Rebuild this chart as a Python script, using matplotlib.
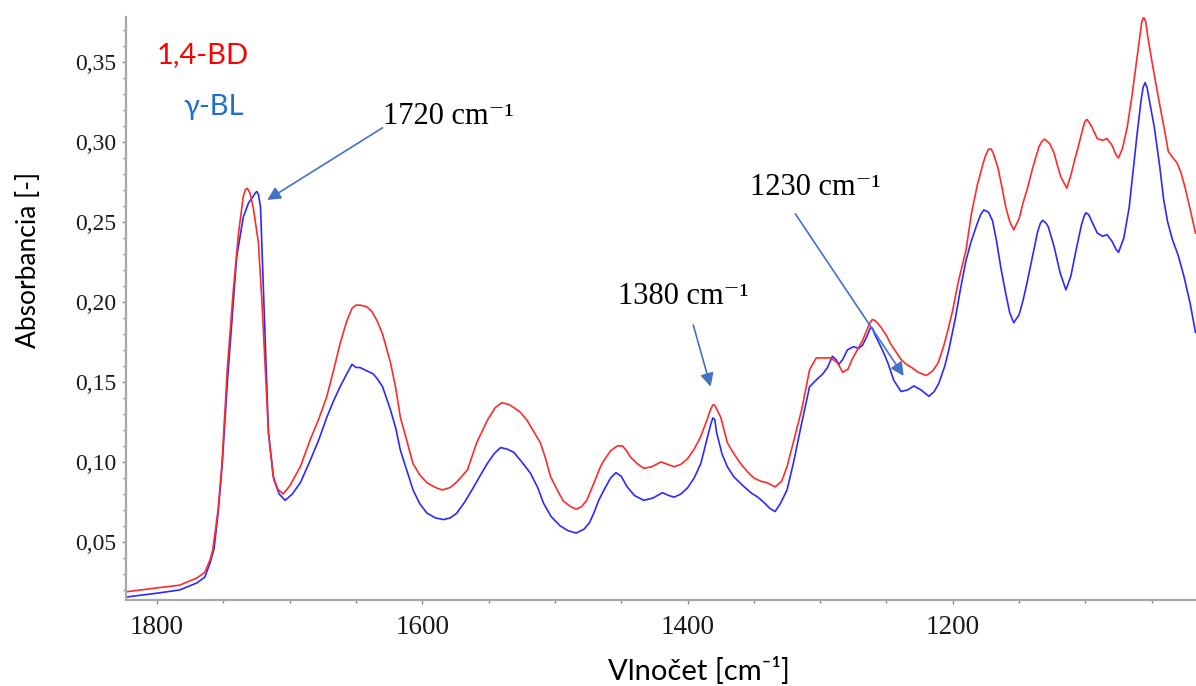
import matplotlib
matplotlib.use("Agg")
import matplotlib.pyplot as plt
from matplotlib.ticker import MultipleLocator, FuncFormatter


# ---------------- FTIR spectra (wavenumber, absorbance) ----------------
wn_bd = [1823, 1800, 1783, 1770, 1764, 1760, 1758, 1754, 1751, 1747, 1742.5,
         1738.6, 1735, 1733.5, 1732, 1730, 1727.5, 1723.6, 1721, 1718.5, 1716,
         1712.5, 1709, 1705, 1700, 1692, 1684.5, 1678, 1672, 1667, 1662, 1657,
         1653, 1650, 1647, 1642, 1638, 1634, 1630, 1624, 1620, 1616.6, 1611,
         1607, 1602, 1596.5, 1590, 1585, 1579, 1574, 1566, 1559, 1551, 1545,
         1540, 1535, 1531, 1526, 1521, 1516, 1511, 1507, 1503.4, 1498, 1493.6,
         1488, 1484, 1480, 1476, 1471, 1465.7, 1463, 1458, 1453, 1449, 1446,
         1443, 1438, 1433, 1427, 1420, 1415, 1410, 1405, 1400, 1395, 1390, 1385,
         1383, 1381, 1379.5, 1378, 1375, 1370, 1365, 1360, 1355, 1350, 1345,
         1340, 1334, 1329, 1325, 1320, 1314, 1308, 1303, 1297, 1292, 1287, 1283,
         1279, 1276, 1272, 1268, 1264, 1262, 1260.6, 1259, 1257, 1254, 1250,
         1247, 1243, 1239, 1235, 1231, 1226, 1220, 1215, 1211, 1207, 1203.6,
         1200, 1196, 1190, 1186, 1181.5, 1177, 1175, 1173, 1171, 1169.5, 1166,
         1163, 1160, 1157, 1154, 1150, 1147, 1144, 1140, 1135, 1133, 1131, 1129,
         1127, 1123.6, 1121, 1118.5, 1114, 1111, 1108, 1106, 1102, 1100.5, 1099,
         1097, 1095, 1091, 1087, 1083.7, 1080, 1077, 1075, 1072, 1068.5, 1065,
         1062, 1059, 1057.5, 1056, 1054.5, 1053, 1050, 1047, 1043.7, 1040,
         1037.5, 1034, 1031, 1028, 1025, 1021, 1017]
abs_bd = [0.0189, 0.0213, 0.023, 0.0275, 0.031, 0.039, 0.045, 0.07, 0.10, 0.159,
          0.2075, 0.243, 0.266, 0.270, 0.271, 0.268, 0.259, 0.237, 0.201, 0.159,
          0.118, 0.091, 0.083, 0.080, 0.085, 0.097, 0.114, 0.127, 0.141, 0.157,
          0.174, 0.188, 0.196, 0.198, 0.198, 0.197, 0.194, 0.188, 0.180, 0.162,
          0.146, 0.128, 0.111, 0.099, 0.092, 0.087, 0.084, 0.0825, 0.084, 0.0875,
          0.095, 0.112, 0.126, 0.134, 0.137, 0.136, 0.134, 0.131, 0.126, 0.119,
          0.112, 0.102, 0.091, 0.082, 0.0755, 0.072, 0.0705, 0.072, 0.076, 0.086,
          0.097, 0.101, 0.107, 0.110, 0.110, 0.107, 0.103, 0.099, 0.096, 0.097,
          0.100, 0.0985, 0.097, 0.0985, 0.102, 0.108, 0.116, 0.127, 0.132, 0.1356,
          0.1355, 0.133, 0.128, 0.112, 0.105, 0.099, 0.094, 0.090, 0.088, 0.087,
          0.0844, 0.088, 0.097, 0.113, 0.1325, 0.1575, 0.165, 0.165, 0.165, 0.162,
          0.156, 0.158, 0.164, 0.170, 0.176, 0.184, 0.1875, 0.189, 0.1885, 0.187,
          0.184, 0.179, 0.174, 0.169, 0.164, 0.161, 0.159, 0.156, 0.154, 0.157,
          0.162, 0.172, 0.1825, 0.195, 0.212, 0.2325, 0.255, 0.273, 0.287, 0.292,
          0.2955, 0.2955, 0.293, 0.284, 0.272, 0.259, 0.250, 0.245, 0.252, 0.262,
          0.270, 0.283, 0.297, 0.300, 0.3017, 0.3005, 0.299, 0.293, 0.285, 0.278,
          0.271, 0.279, 0.289, 0.295, 0.308, 0.3125, 0.314, 0.312, 0.309, 0.302,
          0.301, 0.302, 0.298, 0.292, 0.290, 0.296, 0.309, 0.328, 0.347, 0.366,
          0.375, 0.378, 0.375, 0.366, 0.351, 0.337, 0.322, 0.306, 0.294, 0.290,
          0.287, 0.281, 0.272, 0.258, 0.243]

wn_bl = [1823, 1800, 1783, 1770, 1764, 1760, 1757, 1754, 1751, 1747, 1743, 1740,
         1735, 1731, 1727.5, 1726, 1724.8, 1723.5, 1722, 1720, 1717.7, 1716,
         1712, 1708, 1703.4, 1698, 1692, 1684.5, 1678, 1672, 1667, 1662, 1657,
         1653, 1650, 1647, 1642, 1637, 1634, 1630, 1624, 1620, 1616.6, 1611,
         1607, 1602, 1596.5, 1590, 1584, 1579, 1574, 1568, 1561.5, 1556, 1551,
         1546, 1541, 1536, 1531, 1525, 1518.5, 1513, 1508.7, 1503, 1496, 1490,
         1484, 1478, 1474, 1470.7, 1467, 1463, 1458, 1454, 1450, 1445.5, 1440,
         1433, 1426, 1419, 1414, 1410, 1405, 1400, 1395, 1390, 1386, 1383, 1381,
         1379.5, 1378, 1374, 1370, 1365, 1358, 1352, 1347, 1342, 1338, 1334,
         1330, 1325, 1320, 1314, 1308, 1302, 1298, 1294.5, 1290.8, 1288, 1286,
         1283, 1279.5, 1275, 1271, 1268, 1265, 1263, 1262, 1260.5, 1259, 1256,
         1252, 1249, 1244.5, 1239, 1234, 1229.4, 1224, 1218, 1214, 1210.6, 1206,
         1203, 1198, 1194, 1190, 1186.4, 1182, 1179, 1176.6, 1173, 1170, 1167,
         1163.8, 1160, 1157, 1154, 1150, 1147, 1144, 1140, 1136, 1134, 1132.3,
         1130, 1128, 1123.6, 1119, 1114.7, 1111, 1107, 1103, 1101, 1099.6, 1097.5,
         1095, 1091, 1087, 1083.7, 1080, 1077, 1075, 1071, 1067, 1064, 1061,
         1058, 1056.5, 1055, 1053.5, 1052, 1048, 1044, 1041, 1038, 1034.4, 1030,
         1025.7, 1021, 1017]
abs_bl = [0.0156, 0.018, 0.020, 0.0244, 0.028, 0.037, 0.046, 0.068, 0.097, 0.150,
          0.195, 0.228, 0.253, 0.262, 0.266, 0.268, 0.269, 0.267, 0.259, 0.212,
          0.159, 0.118, 0.089, 0.080, 0.076, 0.080, 0.087, 0.101, 0.114, 0.128,
          0.138, 0.147, 0.155, 0.161, 0.159, 0.159, 0.157, 0.155, 0.152, 0.147,
          0.1325, 0.121, 0.1075, 0.093, 0.0825, 0.074, 0.068, 0.065, 0.064, 0.065,
          0.068, 0.075, 0.084, 0.092, 0.099, 0.105, 0.109, 0.108, 0.106, 0.100,
          0.093, 0.084, 0.0744, 0.066, 0.060, 0.057, 0.0556, 0.058, 0.062, 0.068,
          0.076, 0.0825, 0.090, 0.0933, 0.091, 0.0844, 0.079, 0.076, 0.0775,
          0.0808, 0.079, 0.078, 0.080, 0.0838, 0.090, 0.099, 0.112, 0.122, 0.1275,
          0.1265, 0.118, 0.105, 0.097, 0.0906, 0.085, 0.0806, 0.078, 0.0744, 0.071,
          0.069, 0.074, 0.0825, 0.100, 0.124, 0.147, 0.152, 0.155, 0.159, 0.166,
          0.164, 0.161, 0.164, 0.170, 0.172, 0.171, 0.173, 0.178, 0.182, 0.184,
          0.1835, 0.180, 0.175, 0.168, 0.162, 0.151, 0.144, 0.145, 0.1475, 0.145,
          0.141, 0.144, 0.149, 0.160, 0.170, 0.190, 0.209, 0.226, 0.237, 0.248,
          0.2545, 0.2575, 0.256, 0.2506, 0.238, 0.2215, 0.205, 0.193, 0.187, 0.192,
          0.201, 0.212, 0.228, 0.244, 0.249, 0.251, 0.2495, 0.247, 0.2345, 0.218,
          0.2075, 0.216, 0.2325, 0.248, 0.2535, 0.2557, 0.2545, 0.250, 0.243, 0.241,
          0.242, 0.238, 0.233, 0.231, 0.240, 0.259, 0.282, 0.305, 0.326, 0.334,
          0.337, 0.334, 0.327, 0.309, 0.285, 0.264, 0.250, 0.239, 0.229, 0.216,
          0.199, 0.181]

series_names = ["1,4-BD", "γ-BL"]
band_labels = ["1720 cm⁻¹", "1380 cm⁻¹", "1230 cm⁻¹"]

RED = "#ff2a2a"
BLUE = "#2a2aff"
ARROW = "#4472c4"
SERIF = ["Liberation Serif", "DejaVu Serif"]
SANS = ["Lato", "DejaVu Sans"]

fig = plt.figure(figsize=(11.96, 6.86), dpi=100)
ax = fig.add_axes([0.1054, 0.1254, 0.8946, 0.85])

ax.plot(wn_bl, abs_bl, color=BLUE, lw=1.2)
ax.plot(wn_bd, abs_bd, color=RED, lw=1.2)

ax.set_xlim(1823.4, 1016.6)
ax.set_ylim(0.01375, 0.3781)

# axes frame: only left/bottom in gray
for side in ["top", "right"]:
    ax.spines[side].set_visible(False)
for side in ["left", "bottom"]:
    ax.spines[side].set_color("#a8a8a8")
    ax.spines[side].set_linewidth(1.6)

ax.xaxis.set_major_locator(MultipleLocator(200))
ax.xaxis.set_minor_locator(MultipleLocator(50))
ax.yaxis.set_major_locator(MultipleLocator(0.05))
ax.yaxis.set_minor_locator(MultipleLocator(0.01))
ax.yaxis.set_major_formatter(FuncFormatter(lambda v, p: f"{v:.2f}".replace(".", ",")))
ax.xaxis.set_major_formatter(FuncFormatter(lambda v, p: f"{v:.0f}"))

ax.tick_params(which="both", direction="out", color="#888888", width=1)
ax.tick_params(which="major", length=3)
ax.tick_params(which="minor", length=2)
ax.tick_params(axis="x", which="major", pad=8, labelsize=19.5, labelcolor="#1a1a1a")
ax.tick_params(axis="y", which="major", pad=4, labelsize=17, labelcolor="#1a1a1a")
for lab in ax.get_xticklabels() + ax.get_yticklabels():
    lab.set_family(SERIF)

ax.set_ylabel("Absorbancia [-]", fontsize=19, family=SANS, va="center")
ax.yaxis.set_label_coords(-0.0916, 0.583)
ax.set_xlabel("Vlnočet [cm⁻¹]", fontsize=21, family=SANS, va="baseline")
ax.xaxis.set_label_coords(0.5355, -0.137)

# series names in the corner
ax.text(0.029, 0.935, series_names[0], color="#ff0000", fontsize=21,
        family=SANS, transform=ax.transAxes, va="center")
ax.text(0.054, 0.8456, series_names[1], color="#1f6fd0", fontsize=21,
        family=SANS, transform=ax.transAxes, va="center")

# band annotations
arrow_kw = dict(arrowstyle="-|>", color=ARROW, lw=1.2, mutation_scale=20,
                shrinkA=0, shrinkB=0)
ax.text(1629.4, 0.3156, band_labels[0], fontsize=22, family=SERIF, va="center")
ax.annotate("", xy=(1717, 0.2637), xytext=(1630, 0.3088), arrowprops=arrow_kw)

ax.text(1452.8, 0.2031, band_labels[1], fontsize=22, family=SERIF, va="center")
ax.annotate("", xy=(1382.6, 0.147), xytext=(1395.7, 0.1856), arrowprops=arrow_kw)

ax.text(1353.2, 0.2713, band_labels[2], fontsize=22, family=SERIF, va="center")
ax.annotate("", xy=(1237, 0.15375), xytext=(1318.7, 0.255), arrowprops=arrow_kw)

fig.savefig("out.png", dpi=100)
